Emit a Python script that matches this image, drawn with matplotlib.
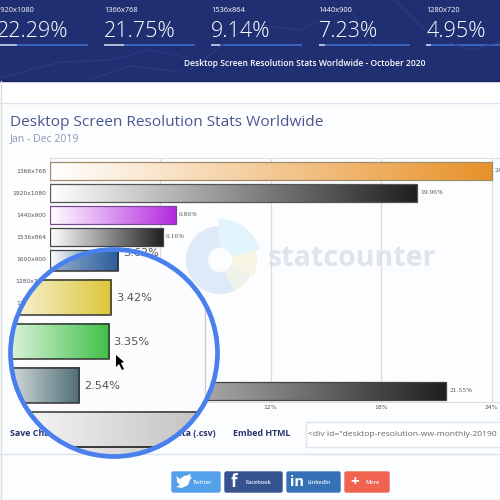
# Desktop screen resolution page screenshot, with the magnifier circle over the bar chart
import numpy as np
import matplotlib
matplotlib.use('Agg')
import matplotlib.pyplot as plt
from matplotlib.colors import LinearSegmentedColormap
from matplotlib.patches import Circle, FancyBboxPatch, Polygon, Rectangle, Wedge

plt.rcParams['font.family'] = ['Open Sans', 'DejaVu Sans']

# top strip
stat_names = ['1920x1080', '1366x768', '1536x864', '1440x900', '1280x720']
stat_values = [22.29, 21.75, 9.14, 7.23, 4.95]

# main chart
resolutions = ['1366x768', '1920x1080', '1440x900', '1536x864', '1600x900', '1280x720',
               '1280x800', '1680x1050', '1360x768', '1024x768', 'Other']
shares = [24.0, 19.96, 6.86, 6.16, 3.62, 3.42, 3.35, 2.54, 2.1, 1.9, 21.55]
bar_colors = ['#e8922a', '#1f1f1f', '#b428e0', '#1f1f1f', '#2a5c9c', '#dcc63a',
              '#40c048', '#4f6e74', '#999999', '#999999', '#1f1f1f']
bar_edges = ['#a08c6a', '#555555', '#7a4a90', '#444444', '#444444', '#444444',
             '#444444', '#444444', '#444444', '#444444', '#444444']
axis_ticks = [6, 12, 18, 24]

# bars seen through the magnifier
zoom_shares = [3.62, 3.42, 3.35, 2.54, 21.55, 21.55]
zoom_colors = ['#2a5c9c', '#dcc63a', '#40c048', '#4f6e74', '#1f1f1f', '#1f1f1f']
zoom_rows = [0, 1, 2, 3, 4, 4.8]

# share buttons
button_names = ['Twitter', 'Facebook', 'LinkedIn', 'More']
button_colors = ['#55a0ea', '#36528f', '#3671b5', '#ef6350']

W = 500


def px_axes(x0, y0, x1, y1, **kw):
    return fig.add_axes([x0 / W, 1 - y1 / W, (x1 - x0) / W, (y1 - y0) / W], **kw)


def grad_bar(ax, y, val, color, h, edge='#4a4a4a', lw=0.9):
    cm = LinearSegmentedColormap.from_list('g', ['#ffffff', color])
    g = np.linspace(0, 1, 128).reshape(1, -1)
    im = ax.imshow(g, cmap=cm, extent=[0, val, y + h / 2, y - h / 2], aspect='auto', zorder=2,
                   interpolation='bilinear')
    b = ax.barh(y, val, height=h, facecolor='none', edgecolor=edge, linewidth=lw, zorder=3)
    return im, b[0]


fig = plt.figure(figsize=(5, 5), dpi=100, facecolor='#fcfdfe')

# page background, pixel coordinates
bg = fig.add_axes([0, 0, 1, 1])
bg.set_xlim(0, W)
bg.set_ylim(W, 0)
bg.axis('off')

bg.add_patch(Rectangle((0, 0), W, 81, fc='#1f2f72', ec='none'))
bg.add_patch(Rectangle((0, 81), W, 22, fc='#ffffff', ec='none'))
bg.plot([0, W], [80.5, 80.5], color='#182460', lw=1)
bg.plot([0, W], [103, 103], color='#dbe3ee', lw=1)
bg.plot([0, W], [454, 454], color='#dbe3ee', lw=1)
bg.plot([0.5, 0.5], [81, W], color='#dddddd', lw=1)
bg.plot([0, W], [499.5, 499.5], color='#dddddd', lw=1)

# faint map outlines in the header
for xs, ys in [([0, 60, 110, 150, 190], [78, 62, 60, 50, 58]),
               ([190, 250, 300, 350, 370], [70, 24, 30, 8, 46]),
               ([395, 430, 470, 500], [0, 35, 50, 42]),
               ([90, 130, 180], [80, 66, 72])]:
    bg.plot(xs, ys, color='#2c3e82', lw=0.7)

# top stats
for i in range(len(stat_names)):
    x = -3.5 + 107.4 * i
    bg.text(x, 11, stat_names[i], color='white', fontsize=5.4, va='center')
    bg.text(x, 31.5, '%.2f%%' % stat_values[i], color='white', fontsize=15.5, va='center', fontweight='light')
    bg.barh(44.5, 91, left=x, height=2, color='#3a62b8')
    bg.barh(44.5, 91 * stat_values[i] / 100, left=x, height=2, color='#aebbd8')
bg.text(304.5, 63, 'Desktop Screen Resolution Stats Worldwide - October 2020', color='white',
        fontsize=6.1, fontweight='semibold', ha='center', va='center')

# titles
bg.text(10, 122.5, 'Desktop Screen Resolution Stats Worldwide', color='#4a5690', fontsize=11.1, va='center')
bg.text(10, 139, 'Jan - Dec 2019', color='#8d97b5', fontsize=7.6, va='center')

# watermark, angles negated because the pixel axes run downwards
cx, cy = 220, 260
bg.add_patch(Wedge((cx, cy), 34, -295 + 360, 270, width=22, fc='#dfeaf8', ec='none'))
bg.add_patch(Wedge((cx, cy), 41, -92, -15, width=29, fc='#e2f3fb', ec='none'))
bg.add_patch(Wedge((cx, cy), 37, -15, 25, width=25, fc='#f7f5e4', ec='none'))
bg.add_patch(Wedge((cx, cy), 34, 25, 65, width=22, fc='#eef3ea', ec='none'))
bg.text(268, 259, 'statcounter', color='#dfe5ee', fontsize=20.6, fontweight='bold', va='center')

# row under the chart
bg.text(10, 433, 'Save Chart (.png)', color='#26336e', fontsize=6.4, fontweight='bold', va='center')
bg.text(216, 433, 'Download Data (.csv)', color='#26336e', fontsize=6.4, fontweight='bold', va='center', ha='right')
bg.text(233, 433, 'Embed HTML', color='#26336e', fontsize=6.4, fontweight='bold', va='center')
bg.add_patch(Rectangle((305.5, 421.5), 200, 25, fc='white', ec='#dde4ee', lw=1))
bg.text(308, 434, '<div id="desktop-resolution-ww-monthly-20190', color='#666666', fontsize=6.1,
        va='center', clip_on=True)

# buttons
bx = [171, 224, 286, 344]
bw = [50, 59, 55, 46]
for i in range(len(button_names)):
    bg.add_patch(FancyBboxPatch((bx[i] + 1, 472), bw[i] - 2, 20, boxstyle='round,pad=0,rounding_size=1.5',
                                fc=button_colors[i], ec=button_colors[i], lw=1))
    bg.text(bx[i] + (22 if i != 3 else 22), 482, button_names[i], color='#eef3fb', fontsize=4.1,
            va='center', fontweight='semibold')
bg.text(234, 482, 'f', color='white', fontsize=12, fontweight='bold', va='center', ha='center')
bg.text(297, 482, 'in', color='white', fontsize=10.5, fontweight='bold', va='center', ha='center')
bg.text(355, 481.5, '+', color='white', fontsize=11, fontweight='bold', va='center', ha='center')
bg.add_patch(Polygon([(176, 476), (180, 479), (184, 476), (188, 475), (191, 474), (190, 477), (192, 477),
                      (190, 480), (188, 485), (182, 488), (176, 487), (180, 485), (177, 482), (177, 479)],
                     fc='white', ec='none'))

# main chart
ax = px_axes(49.5, 158, W, 402)
ax.patch.set_visible(False)
for i in range(len(resolutions)):
    grad_bar(ax, i, shares[i], bar_colors[i], 0.8, edge=bar_edges[i])
    ax.text(shares[i] + 0.16, i, '%.2f%%' % shares[i], fontsize=4.2, color='#555555', va='center',
            family='DejaVu Serif')
ax.set_xlim(0, 450.5 / 18.42)
ax.set_ylim(10.5, -0.59)
ax.set_yticks(range(len(resolutions)))
ax.set_yticklabels(resolutions, fontsize=4.3, color='#555555', family='DejaVu Sans')
ax.set_xticks(axis_ticks)
ax.set_xticklabels(['%d%%' % t for t in axis_ticks], fontsize=4.4, color='#555555', family='DejaVu Sans')
ax.tick_params(length=0, pad=2.5)
ax.grid(axis='x', color='#dddddd', lw=0.9, zorder=0)
ax.set_axisbelow(True)
ax.spines['right'].set_visible(False)
for s in ['top', 'bottom', 'left']:
    ax.spines[s].set_color('#dddddd')

# magnifier
lens = px_axes(10.5, 249.5, 217.5, 456.5)
lens.patch.set_visible(False)
lens.axis('off')
face = Circle((0.5, 0.5), 0.5, transform=lens.transAxes, fc='#fcfcff', ec='none', zorder=0)
lens.add_patch(face)
lens.axvline(6, color='#cccccc', lw=1, zorder=1, clip_path=face)
for i in range(len(zoom_shares)):
    im, b = grad_bar(lens, zoom_rows[i], zoom_shares[i], zoom_colors[i], 0.8, edge='#333333', lw=1.1)
    im.set_clip_path(face)
    b.set_clip_path(face)
    if zoom_shares[i] < 10:
        t = lens.text(zoom_shares[i] + 0.14, zoom_rows[i] + 0.01, '%.2f%%' % zoom_shares[i], fontsize=8.2,
                      color='#555555', va='center', family='DejaVu Sans')
        t.set_clip_path(face)
lens.set_xlim(23.9 / 36.4, 230.9 / 36.4)
lens.set_ylim(203.5 / 44.2, -3.5 / 44.2)
lens.add_patch(Circle((0.5, 0.5), 0.5, transform=lens.transAxes, fc='none', ec='#4a80ee', lw=3.4,
                      zorder=5, clip_on=False))

# mouse pointer
top = fig.add_axes([0, 0, 1, 1])
top.set_xlim(0, W)
top.set_ylim(W, 0)
top.axis('off')
top.add_patch(Polygon([(116, 355), (116, 367), (119, 364), (122, 370), (124, 369), (121, 363), (124, 362)],
                      fc='black', ec='none'))

fig.savefig('out.png', dpi=100)
